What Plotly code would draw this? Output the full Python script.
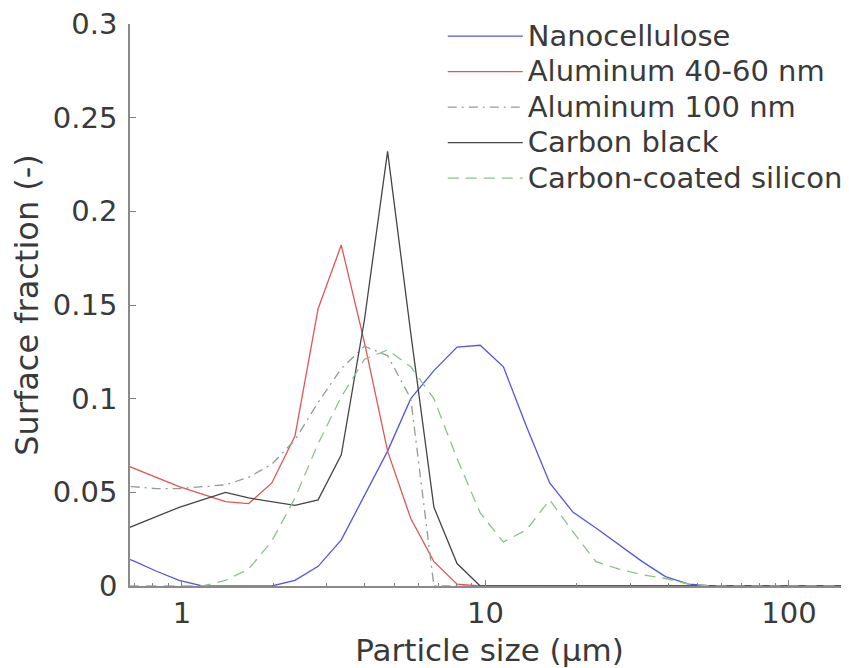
import plotly.graph_objects as go

# particle size bins (um), log spaced
size_um = [0.578, 0.689, 0.821, 0.979, 1.167, 1.391, 1.658, 1.977, 2.357, 2.809,
           3.349, 3.992, 4.759, 5.674, 6.764, 8.063, 9.610, 11.46, 13.66, 16.28,
           19.41, 23.13, 27.57, 32.87, 39.19, 46.71, 55.69, 66.37, 79.12, 94.32,
           112.4, 134.0, 159.8]

nanocellulose = [0.018, 0.0135, 0.008, 0.003, 0.0, 0.0, 0.0, 0.0, 0.003, 0.0105,
                 0.0246, 0.048, 0.072, 0.100, 0.115, 0.1275, 0.1285, 0.117, 0.085, 0.055,
                 0.0395, 0.031, 0.022, 0.013, 0.005, 0.001, 0.0, 0.0, 0.0, 0.0,
                 0.0, 0.0, 0.0]
aluminum_40_60 = [0.068, 0.063, 0.058, 0.053, 0.049, 0.045, 0.044, 0.055, 0.080, 0.148,
                  0.182, 0.130, 0.072, 0.036, 0.013, 0.001, 0.0, 0.0, 0.0, 0.0,
                  0.0, 0.0, 0.0, 0.0, 0.0, 0.0, 0.0, 0.0, 0.0, 0.0,
                  0.0, 0.0, 0.0]
aluminum_100 = [0.053, 0.053, 0.052, 0.052, 0.053, 0.054, 0.058, 0.065, 0.078, 0.098,
                0.116, 0.128, 0.123, 0.100, 0.0, 0.0, 0.0, 0.0, 0.0, 0.0,
                0.0, 0.0, 0.0, 0.0, 0.0, 0.0, 0.0, 0.0, 0.0, 0.0,
                0.0, 0.0, 0.0]
carbon_black = [0.027, 0.032, 0.037, 0.042, 0.046, 0.050, 0.047, 0.045, 0.043, 0.046,
                0.070, 0.142, 0.232, 0.135, 0.042, 0.012, 0.0, 0.0, 0.0, 0.0,
                0.0, 0.0, 0.0, 0.0, 0.0, 0.0, 0.0, 0.0, 0.0, 0.0,
                0.0, 0.0, 0.0]
carbon_silicon = [0.0, 0.0, 0.0, 0.0, 0.0, 0.003, 0.009, 0.024, 0.047, 0.076,
                  0.101, 0.121, 0.126, 0.117, 0.100, 0.068, 0.039, 0.0235, 0.030, 0.046,
                  0.029, 0.013, 0.009, 0.006, 0.004, 0.001, 0.0, 0.0, 0.0, 0.0,
                  0.0, 0.0, 0.0]

series = [
    ("Nanocellulose", nanocellulose, "#5555dd", "solid"),
    ("Aluminum 40-60 nm", aluminum_40_60, "#e35555", "solid"),
    ("Aluminum 100 nm", aluminum_100, "#8f9f8f", "9px,5px,2px,5px"),
    ("Carbon black", carbon_black, "#454545", "solid"),
    ("Carbon-coated silicon", carbon_silicon, "#8fbf8f", "11px,7px"),
]

x_major = [1, 10, 100]
x_minor = [0.7, 0.8, 0.9, 2, 3, 4, 5, 6, 7, 8, 9,
           20, 30, 40, 50, 60, 70, 80, 90, 200]
y_ticks = [0, 0.05, 0.1, 0.15, 0.2, 0.25, 0.3]

fig = go.Figure()
for name, vals, col, dash in series:
    # larger span font keeps legend rows tight like the original
    label = "<span style='font-size:29px'>" + name + "</span>"
    fig.add_trace(go.Scatter(x=size_um, y=vals, mode="lines", name=label,
                             line=dict(color=col, width=1.3, dash=dash)))

font = "DejaVu Sans"
# page body has an 8px margin, so the figure is sized/offset to match
fig.update_layout(
    width=841, height=660,
    margin=dict(l=122, r=0, t=16, b=82, autoexpand=False),
    plot_bgcolor="white", paper_bgcolor="white",
    font=dict(family=font, size=29, color="#3a3a3a"),
    showlegend=True,
    legend=dict(x=0.435, y=1.019, xanchor="left", yanchor="top",
                bgcolor="rgba(0,0,0,0)", font=dict(size=25),
                tracegroupgap=0, itemwidth=75),
)
fig.update_xaxes(
    type="log", range=[-0.1713, 2.198],
    tickvals=x_major, ticktext=["1", "10", "100"],
    ticks="inside", ticklen=6, tickcolor="#808080",
    minor=dict(tickvals=x_minor, ticks="inside", ticklen=3, tickcolor="#808080"),
    showline=True, linecolor="#8a8a8a", linewidth=1.5,
    showgrid=False, zeroline=False,
    title=dict(text="Particle size (µm)", font=dict(size=31), standoff=12),
)
fig.update_yaxes(
    range=[0, 0.3], tickvals=y_ticks,
    ticks="inside", ticklen=6, tickcolor="#808080",
    ticklabelstandoff=5, ticklabeloverflow="allow",
    showline=True, linecolor="#8a8a8a", linewidth=1.5,
    showgrid=False, zeroline=False,
    title=dict(text="Surface fraction (-)", font=dict(size=32), standoff=8),
)

fig.write_html("out.html")
